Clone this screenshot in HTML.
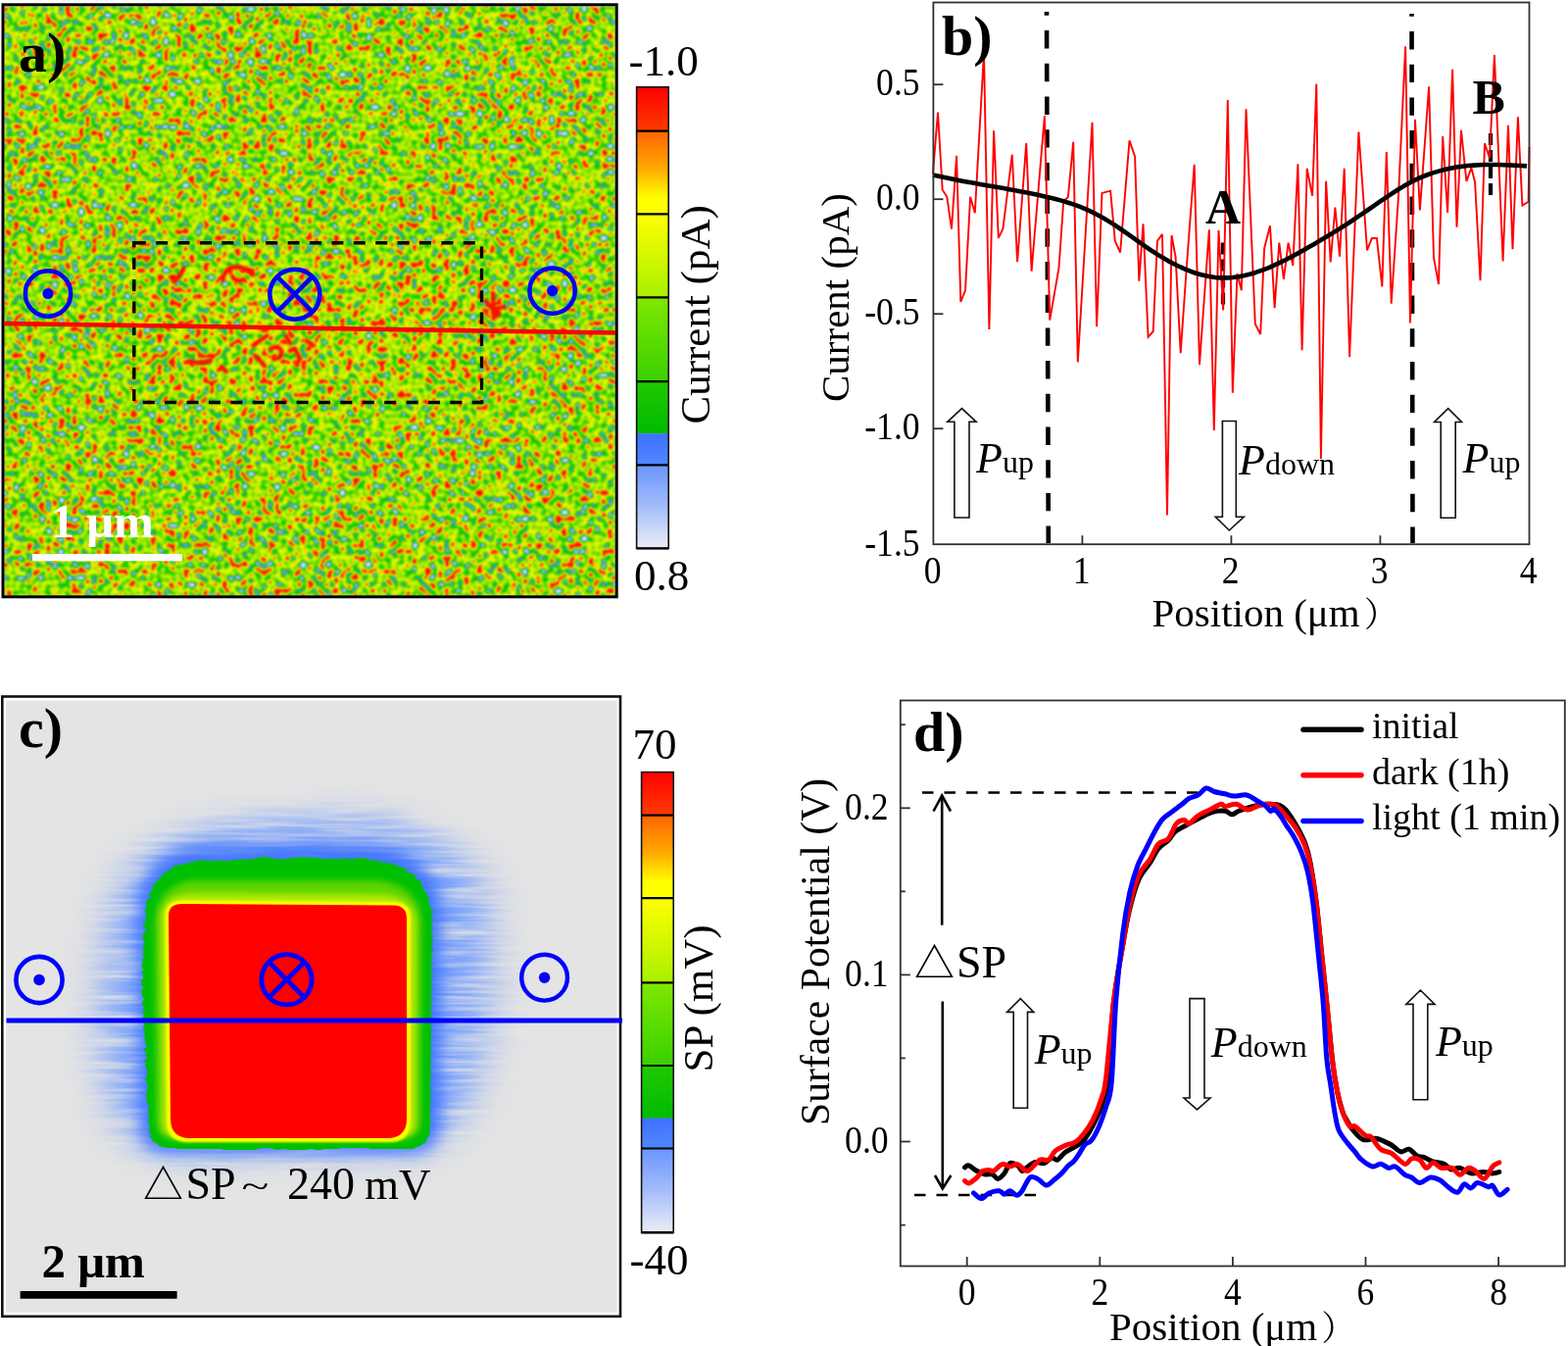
<!DOCTYPE html><html><head><meta charset="utf-8"><title>Figure</title>
<style>html,body{margin:0;padding:0;background:#fff;}svg{display:block;}text{font-family:'Liberation Serif','Times New Roman',serif;}</style></head><body>
<svg width="1600" height="1373" viewBox="0 0 1600 1373">
<defs>
<filter id="nz" x="4" y="6" width="624" height="602" filterUnits="userSpaceOnUse" color-interpolation-filters="sRGB">
<feTurbulence type="fractalNoise" baseFrequency="0.15" numOctaves="1" seed="7" result="t0"/>
<feColorMatrix in="t0" type="matrix" values="1 0 0 0 0  1 0 0 0 0  1 0 0 0 0  0 0 0 0 1" result="t1"/>
<feComposite in="t1" in2="SourceGraphic" operator="arithmetic" k1="0" k2="1" k3="0.05" k4="0" result="t2"/>
<feComponentTransfer in="t2">
<feFuncR type="table" tableValues="0.878 0.877 0.875 0.873 0.872 0.870 0.868 0.866 0.865 0.863 0.861 0.860 0.858 0.856 0.854 0.853 0.851 0.849 0.848 0.846 0.844 0.842 0.841 0.839 0.837 0.836 0.834 0.832 0.831 0.829 0.827 0.825 0.824 0.822 0.820 0.819 0.817 0.815 0.813 0.812 0.810 0.808 0.807 0.805 0.803 0.801 0.800 0.798 0.796 0.795 0.793 0.791 0.789 0.788 0.786 0.784 0.682 0.580 0.478 0.376 0.367 0.357 0.347 0.337 0.327 0.318 0.308 0.298 0.199 0.099 0.000 0.013 0.027 0.040 0.054 0.067 0.081 0.094 0.108 0.121 0.134 0.148 0.161 0.175 0.188 0.220 0.251 0.282 0.314 0.345 0.376 0.408 0.439 0.471 0.502 0.533 0.565 0.580 0.596 0.612 0.627 0.643 0.659 0.675 0.690 0.706 0.722 0.737 0.753 0.769 0.784 0.802 0.819 0.836 0.853 0.871 0.888 0.905 0.922 0.940 0.957 0.963 0.969 0.975 0.982 0.988 0.994 1.000 1.000 1.000 1.000 1.000 1.000 1.000 1.000 1.000 1.000 1.000 1.000 1.000 1.000 1.000 1.000 1.000 1.000 1.000 1.000 1.000 1.000 1.000 1.000 1.000 1.000 1.000 1.000 1.000 1.000 1.000 1.000 1.000 1.000 1.000 1.000 1.000 1.000 1.000 1.000 1.000 1.000 1.000 1.000 1.000 1.000 1.000 1.000 1.000 1.000 1.000 1.000 1.000 1.000 1.000 1.000 1.000 1.000 1.000 1.000 1.000 1.000 1.000 1.000 1.000 1.000 1.000 1.000 1.000 1.000 1.000 1.000 1.000 1.000"/>
<feFuncG type="table" tableValues="0.910 0.909 0.908 0.906 0.905 0.904 0.903 0.902 0.901 0.900 0.898 0.897 0.896 0.895 0.894 0.893 0.892 0.890 0.889 0.888 0.887 0.886 0.885 0.884 0.882 0.881 0.880 0.879 0.878 0.877 0.876 0.874 0.873 0.872 0.871 0.870 0.869 0.868 0.866 0.865 0.864 0.863 0.862 0.861 0.860 0.858 0.857 0.856 0.855 0.854 0.853 0.852 0.850 0.849 0.848 0.847 0.776 0.706 0.635 0.565 0.559 0.553 0.547 0.541 0.535 0.529 0.524 0.518 0.601 0.685 0.769 0.772 0.775 0.779 0.782 0.785 0.789 0.792 0.796 0.799 0.802 0.806 0.809 0.812 0.816 0.822 0.829 0.835 0.842 0.848 0.855 0.861 0.868 0.875 0.881 0.888 0.894 0.898 0.902 0.906 0.910 0.914 0.918 0.922 0.925 0.929 0.933 0.937 0.941 0.945 0.949 0.951 0.954 0.956 0.958 0.961 0.963 0.965 0.968 0.970 0.973 0.941 0.910 0.878 0.847 0.816 0.784 0.753 0.588 0.424 0.259 0.094 0.093 0.091 0.090 0.089 0.087 0.086 0.085 0.083 0.082 0.080 0.079 0.078 0.076 0.075 0.074 0.072 0.071 0.070 0.068 0.067 0.065 0.064 0.063 0.061 0.060 0.059 0.057 0.056 0.055 0.053 0.052 0.050 0.049 0.048 0.046 0.045 0.044 0.042 0.041 0.040 0.038 0.037 0.035 0.034 0.033 0.031 0.030 0.029 0.027 0.026 0.025 0.023 0.022 0.020 0.019 0.018 0.016 0.015 0.014 0.012 0.011 0.010 0.008 0.007 0.005 0.004 0.003 0.001 0.000"/>
<feFuncB type="table" tableValues="1.000 1.000 1.000 1.000 1.000 1.000 1.000 1.000 1.000 1.000 1.000 1.000 1.000 1.000 1.000 1.000 1.000 1.000 1.000 1.000 1.000 1.000 1.000 1.000 1.000 1.000 1.000 1.000 1.000 1.000 1.000 1.000 1.000 1.000 1.000 1.000 1.000 1.000 1.000 1.000 1.000 1.000 1.000 1.000 1.000 1.000 1.000 1.000 1.000 1.000 1.000 1.000 1.000 1.000 1.000 1.000 1.000 1.000 1.000 1.000 1.000 1.000 1.000 1.000 1.000 1.000 1.000 1.000 0.667 0.333 0.000 0.000 0.000 0.000 0.000 0.000 0.000 0.000 0.000 0.000 0.000 0.000 0.000 0.000 0.000 0.000 0.000 0.000 0.000 0.000 0.000 0.000 0.000 0.000 0.000 0.000 0.000 0.000 0.000 0.000 0.000 0.000 0.000 0.000 0.000 0.000 0.000 0.000 0.000 0.000 0.000 0.000 0.000 0.000 0.000 0.000 0.000 0.000 0.000 0.000 0.000 0.000 0.000 0.000 0.000 0.000 0.000 0.000 0.000 0.000 0.000 0.000 0.000 0.000 0.000 0.000 0.000 0.000 0.000 0.000 0.000 0.000 0.000 0.000 0.000 0.000 0.000 0.000 0.000 0.000 0.000 0.000 0.000 0.000 0.000 0.000 0.000 0.000 0.000 0.000 0.000 0.000 0.000 0.000 0.000 0.000 0.000 0.000 0.000 0.000 0.000 0.000 0.000 0.000 0.000 0.000 0.000 0.000 0.000 0.000 0.000 0.000 0.000 0.000 0.000 0.000 0.000 0.000 0.000 0.000 0.000 0.000 0.000 0.000 0.000 0.000 0.000 0.000 0.000 0.000 0.000"/>
<feFuncA type="linear" slope="0" intercept="1"/>
</feComponentTransfer>
<feGaussianBlur stdDeviation="1.0"/>
</filter>
<filter id="blur6" x="-50%" y="-50%" width="200%" height="200%"><feGaussianBlur stdDeviation="8"/></filter>
<filter id="blur2" x="-50%" y="-50%" width="200%" height="200%"><feGaussianBlur stdDeviation="3"/></filter>
<filter id="blurS" x="-50%" y="-50%" width="200%" height="200%"><feGaussianBlur stdDeviation="0.8"/></filter>
<filter id="blur1" x="-50%" y="-50%" width="200%" height="200%"><feGaussianBlur stdDeviation="1.2"/></filter>
<filter id="halo" x="0" y="0" width="1" height="1" filterUnits="objectBoundingBox" color-interpolation-filters="sRGB">
<feGaussianBlur in="SourceGraphic" stdDeviation="22 16" result="b"/>
<feTurbulence type="fractalNoise" baseFrequency="0.012 0.22" numOctaves="2" seed="3" result="n"/>
<feColorMatrix in="n" type="matrix" values="0 0 0 0 0  0 0 0 0 0  0 0 0 0 0  1.8 0 0 0 -0.15" result="na"/>
<feComposite in="b" in2="na" operator="in"/>
</filter>
<filter id="jag" x="-10%" y="-10%" width="120%" height="120%"><feTurbulence type="fractalNoise" baseFrequency="0.05 0.35" numOctaves="1" seed="9" result="n"/><feDisplacementMap in="SourceGraphic" in2="n" scale="7" xChannelSelector="R" yChannelSelector="G"/></filter>
<linearGradient id="cb1" x1="0" y1="0" x2="0" y2="1"><stop offset="0" stop-color="#ff0000"/><stop offset="1" stop-color="#ff3c00"/></linearGradient>
<linearGradient id="cb2" x1="0" y1="0" x2="0" y2="1"><stop offset="0" stop-color="#ff6400"/><stop offset="0.45" stop-color="#ffa800"/><stop offset="0.8" stop-color="#ffff00"/><stop offset="1" stop-color="#ffff00"/></linearGradient>
<linearGradient id="cb3" x1="0" y1="0" x2="0" y2="1"><stop offset="0" stop-color="#ffff00"/><stop offset="1" stop-color="#a8f000"/></linearGradient>
<linearGradient id="cb4" x1="0" y1="0" x2="0" y2="1"><stop offset="0" stop-color="#80e800"/><stop offset="1" stop-color="#38d000"/></linearGradient>
<linearGradient id="cb5" x1="0" y1="0" x2="0" y2="1"><stop offset="0" stop-color="#22c800"/><stop offset="1" stop-color="#00bb00"/></linearGradient>
<linearGradient id="cb6" x1="0" y1="0" x2="0" y2="1"><stop offset="0" stop-color="#3f70ff"/><stop offset="1" stop-color="#5088ff"/></linearGradient>
<linearGradient id="cb7" x1="0" y1="0" x2="0" y2="1"><stop offset="0" stop-color="#6a95ff"/><stop offset="0.5" stop-color="#a4bdfa"/><stop offset="1" stop-color="#eceef6"/></linearGradient>
<linearGradient id="gband" x1="0" y1="0" x2="0" y2="1"><stop offset="0" stop-color="#00bb00"/><stop offset="1" stop-color="#00bb00"/></linearGradient>
</defs>
<g filter="url(#nz)">
<rect x="4" y="6" width="624" height="602" fill="#000"/>
<g filter="url(#blur6)">
<rect x="150" y="262" width="330" height="140" fill="#909090"/>
<ellipse cx="240" cy="285" rx="25" ry="14" fill="#fff"/>
<ellipse cx="275" cy="350" rx="30" ry="14" fill="#fff"/>
<ellipse cx="200" cy="330" rx="20" ry="12" fill="#d0d0d0"/>
<ellipse cx="505" cy="318" rx="10" ry="9" fill="#fff"/>
</g>
</g>
<g fill="none" stroke="#ff1000" stroke-width="4.4" stroke-linecap="round" stroke-linejoin="round" filter="url(#blurS)">
<path d="M227.5 286 Q228 274 240 272.5 Q252 272 258.5 280"/>
<path d="M237.5 282.5 Q242 289 248.5 285"/>
<path d="M187.5 273.5 L183.5 281 L177.5 287.5"/>
<path d="M258.5 352.5 L265 347.5 L272.5 342.5"/>
<path d="M276 356 Q284 351 287.5 358.5 Q288 366 279 366"/>
<path d="M260 362.5 L267.5 370 L270 373.5"/>
<path d="M301 356 L306 366 L302.5 372.5"/>
<path d="M312.5 347.5 L320 352.5"/>
<path d="M193.5 368.5 Q205 372 215 367.5"/>
<path d="M226 374 L231 379"/>
<path d="M503 299 L503.7 325"/>
<path d="M495.5 307.5 L503 315.5 L514.5 313"/>
<path d="M292 343 L296 350"/>
<circle cx="507" cy="320" r="4" fill="#ff1000" stroke="none"/>
</g>
<rect x="3" y="4.8" width="626.2" height="604" fill="none" stroke="#000" stroke-width="3"/>
<rect x="136.8" y="247.7" width="354.7" height="162.8" fill="none" stroke="#000" stroke-width="3.4" stroke-dasharray="12 10.4"/>
<line x1="4" y1="330" x2="628" y2="339.5" stroke="#ff0000" stroke-width="4.5"/>
<circle cx="49.0" cy="299.5" r="23.2" fill="none" stroke="#0000ff" stroke-width="4.5"/>
<circle cx="49.0" cy="299.5" r="5.6" fill="#0000ff"/>
<circle cx="300.8" cy="300.2" r="25.5" fill="none" stroke="#0000ff" stroke-width="4.6"/>
<path d="M282.8 282.2L318.8 318.2M282.8 318.2L318.8 282.2" stroke="#0000ff" stroke-width="4.6"/>
<circle cx="563.6" cy="296.6" r="23.2" fill="none" stroke="#0000ff" stroke-width="4.5"/>
<circle cx="563.6" cy="296.6" r="5.6" fill="#0000ff"/>
<rect x="33" y="565" width="153" height="7.3" fill="#fff"/>
<text x="51.5" y="548" font-size="49" font-weight="bold" fill="#fff">1 μm</text>
<text x="19" y="73" font-size="58" font-weight="bold">a)</text>
<rect x="649.6" y="88.8" width="32.6" height="45.1" fill="url(#cb1)"/>
<rect x="649.6" y="133.6" width="32.6" height="85.1" fill="url(#cb2)"/>
<rect x="649.6" y="218.4" width="32.6" height="85.3" fill="url(#cb3)"/>
<rect x="649.6" y="303.4" width="32.6" height="86.1" fill="url(#cb4)"/>
<rect x="649.6" y="389.2" width="32.6" height="53.3" fill="url(#cb5)"/>
<rect x="649.6" y="442.2" width="32.6" height="32.4" fill="url(#cb6)"/>
<rect x="649.6" y="474.3" width="32.6" height="85.4" fill="url(#cb7)"/>
<rect x="649.6" y="88.8" width="32.6" height="470.6" fill="none" stroke="#111" stroke-width="1.6"/>
<line x1="649.6" y1="133.6" x2="682.2" y2="133.6" stroke="#000" stroke-width="2.2"/>
<line x1="649.6" y1="218.4" x2="682.2" y2="218.4" stroke="#000" stroke-width="2.2"/>
<line x1="649.6" y1="303.4" x2="682.2" y2="303.4" stroke="#000" stroke-width="2.2"/>
<line x1="649.6" y1="389.2" x2="682.2" y2="389.2" stroke="#000" stroke-width="2.2"/>
<line x1="649.6" y1="474.3" x2="682.2" y2="474.3" stroke="#000" stroke-width="2.2"/>
<line x1="649.6" y1="559.4" x2="682.2" y2="559.4" stroke="#000" stroke-width="2.4"/>
<text x="641.5" y="76.8" font-size="45">-1.0</text>
<text x="647" y="602.4" font-size="45">0.8</text>
<text transform="translate(723.5 432.5) rotate(-90)" font-size="43">Current (pA)</text>
<line x1="1068" y1="12" x2="1069.8" y2="554" stroke="#000" stroke-width="4.6" stroke-dasharray="18.4 15.3" stroke-dashoffset="14.6"/>
<line x1="1440.5" y1="13.9" x2="1441.5" y2="554" stroke="#000" stroke-width="4.6" stroke-dasharray="18.4 15.3" stroke-dashoffset="15.6"/>
<line x1="1248" y1="247.5" x2="1248" y2="312.5" stroke="#000" stroke-width="4.2" stroke-dasharray="12 5"/>
<line x1="1521" y1="136" x2="1521" y2="200.5" stroke="#000" stroke-width="4.2" stroke-dasharray="12 5"/>
<polyline points="951.9,177.5 957.0,114.6 961.7,193.8 966.3,200.8 971.0,233.5 976.1,158.9 980.3,308.0 985.0,296.4 990.1,200.8 994.8,217.2 1004.0,54.0 1009.4,336.0 1014.1,133.2 1018.8,242.8 1023.4,233.5 1032.8,157.7 1038.1,267.3 1047.2,146.0 1052.6,276.6 1065.9,118.1 1071.2,326.7 1080.5,273.1 1085.2,205.5 1089.9,200.8 1095.2,144.7 1099.8,369.4 1107.0,250.0 1114.5,124.7 1119.1,333.3 1124.5,196.9 1133.1,194.6 1137.8,245.9 1143.1,257.5 1152.5,143.3 1158.1,159.6 1162.3,286.7 1166.5,228.4 1171.6,343.8 1176.7,338.0 1180.9,245.9 1186.0,238.9 1191.0,525.4 1195.5,240.0 1199.6,262.2 1204.7,360.1 1211.0,270.0 1218.7,167.8 1224.0,372.2 1233.8,234.2 1238.8,439.1 1243.5,235.0 1248.2,316.4 1252.8,102.0 1257.8,400.7 1262.5,279.0 1266.8,296.2 1271.5,111.3 1280.8,330.4 1286.2,341.0 1290.1,253.5 1296.0,230.2 1300.6,314.1 1305.3,247.6 1309.9,285.0 1314.6,247.6 1319.3,271.0 1324.4,167.2 1328.6,357.2 1333.7,171.9 1339.1,199.9 1343.3,85.6 1347.9,468.0 1353.1,184.7 1357.7,267.5 1362.4,211.5 1367.0,261.6 1371.7,171.9 1377.1,364.2 1386.4,134.6 1395.0,255.3 1399.9,243.0 1404.9,243.0 1410.3,292.5 1414.8,155.1 1419.7,309.8 1427.0,200.0 1434.1,47.4 1439.0,329.6 1444.0,121.7 1448.9,214.5 1458.1,88.3 1463.0,262.8 1468.0,290.0 1472.2,139.0 1477.1,217.0 1482.1,70.9 1486.5,231.8 1491.0,132.8 1496.4,184.8 1501.4,171.2 1505.1,186.0 1510.5,286.3 1515.0,146.4 1520.0,161.3 1524.9,56.1 1533.6,266.5 1539.0,127.9 1543.5,254.1 1548.9,119.2 1553.4,209.6 1559.6,205.8 1560.5,150.0" fill="none" stroke="#ff0000" stroke-width="1.9" stroke-linejoin="miter" stroke-miterlimit="3"/>
<polyline points="952.0,178.5 958.0,179.8 964.0,181.1 970.0,182.3 976.0,183.5 982.0,184.7 988.0,185.8 994.0,186.8 1000.0,187.9 1006.0,189.0 1012.0,190.0 1018.0,191.1 1024.0,192.1 1030.0,193.2 1036.0,194.3 1042.0,195.4 1048.0,196.6 1054.0,197.8 1060.0,199.1 1066.0,200.4 1072.0,201.8 1078.0,203.3 1084.0,204.9 1090.0,206.7 1096.0,208.6 1102.0,210.8 1108.0,213.3 1114.0,216.1 1120.0,219.2 1126.0,222.5 1132.0,226.1 1138.0,229.9 1144.0,234.0 1150.0,238.2 1156.0,242.4 1162.0,246.7 1168.0,250.9 1174.0,255.0 1180.0,258.9 1186.0,262.6 1192.0,266.1 1198.0,269.3 1204.0,272.2 1210.0,274.9 1216.0,277.2 1222.0,279.2 1228.0,280.8 1234.0,282.1 1240.0,283.0 1246.0,283.4 1252.0,283.4 1258.0,283.0 1264.0,282.2 1270.0,281.0 1276.0,279.5 1282.0,277.7 1288.0,275.6 1294.0,273.3 1300.0,270.7 1306.0,267.9 1312.0,265.0 1318.0,261.8 1324.0,258.6 1330.0,255.3 1336.0,251.8 1342.0,248.4 1348.0,244.8 1354.0,241.2 1360.0,237.6 1366.0,233.9 1372.0,230.1 1378.0,226.2 1384.0,222.2 1390.0,218.2 1396.0,214.0 1402.0,209.9 1408.0,205.7 1414.0,201.6 1420.0,197.6 1426.0,193.7 1432.0,190.1 1438.0,186.7 1444.0,183.7 1450.0,180.9 1456.0,178.5 1462.0,176.4 1468.0,174.6 1474.0,173.0 1480.0,171.7 1486.0,170.6 1492.0,169.7 1498.0,169.0 1504.0,168.6 1510.0,168.2 1516.0,168.0 1522.0,168.0 1528.0,168.0 1534.0,168.2 1540.0,168.4 1546.0,168.7 1552.0,169.0 1558.0,169.4" fill="none" stroke="#000" stroke-width="4.6" stroke-linejoin="round"/>
<rect x="952.4" y="2.5" width="608.1" height="552.7" fill="none" stroke="#303030" stroke-width="1.8"/>
<line x1="952.4" y1="86.2" x2="962.4" y2="86.2" stroke="#303030" stroke-width="1.8"/>
<text transform="translate(938.6 97.0) scale(0.89 1)" font-size="40" text-anchor="end">0.5</text>
<line x1="952.4" y1="203.2" x2="962.4" y2="203.2" stroke="#303030" stroke-width="1.8"/>
<text transform="translate(938.6 214.0) scale(0.89 1)" font-size="40" text-anchor="end">0.0</text>
<line x1="952.4" y1="320.2" x2="962.4" y2="320.2" stroke="#303030" stroke-width="1.8"/>
<text transform="translate(938.6 331.0) scale(0.89 1)" font-size="40" text-anchor="end">-0.5</text>
<line x1="952.4" y1="437.2" x2="962.4" y2="437.2" stroke="#303030" stroke-width="1.8"/>
<text transform="translate(938.6 448.0) scale(0.89 1)" font-size="40" text-anchor="end">-1.0</text>
<text transform="translate(938.6 566.8) scale(0.89 1)" font-size="40" text-anchor="end">-1.5</text>
<text transform="translate(951.6 595.0) scale(0.89 1)" font-size="40" text-anchor="middle">0</text>
<line x1="1104.4" y1="555.2" x2="1104.4" y2="546.2" stroke="#303030" stroke-width="1.8"/>
<text transform="translate(1103.6 595.0) scale(0.89 1)" font-size="40" text-anchor="middle">1</text>
<line x1="1256.4" y1="555.2" x2="1256.4" y2="546.2" stroke="#303030" stroke-width="1.8"/>
<text transform="translate(1255.6 595.0) scale(0.89 1)" font-size="40" text-anchor="middle">2</text>
<line x1="1408.4" y1="555.2" x2="1408.4" y2="546.2" stroke="#303030" stroke-width="1.8"/>
<text transform="translate(1407.6 595.0) scale(0.89 1)" font-size="40" text-anchor="middle">3</text>
<text transform="translate(1559.6 595.0) scale(0.89 1)" font-size="40" text-anchor="middle">4</text>
<text transform="translate(866 410) rotate(-90)" font-size="41">Current (pA)</text>
<text x="1175.5" y="639.3" font-size="41">Position (μm<tspan font-family="'Liberation Serif','Noto Serif CJK SC','Noto Sans CJK SC',serif" font-size="35" dx="4">）</tspan></text>
<text x="961" y="56" font-size="58" font-weight="bold">b)</text>
<text x="1230" y="227.5" font-size="50" font-weight="bold">A</text>
<text x="1502.5" y="115.5" font-size="50" font-weight="bold">B</text>
<path d="M973.9 528.0L973.9 430.3L966.8 430.3L981.5 416.6L996.1 430.3L989.0 430.3L989.0 528.0Z" fill="#fff" stroke="#111" stroke-width="1.6" stroke-linejoin="miter"/>
<path d="M1247.4 429.5L1247.4 527.3L1240.3 527.3L1254.3 541.0L1269.2 527.3L1261.3 527.3L1261.3 429.5Z" fill="#fff" stroke="#111" stroke-width="1.6" stroke-linejoin="miter"/>
<path d="M1470.2 528.2L1470.2 430.5L1463.6 430.5L1477.7 416.7L1491.5 430.5L1485.2 430.5L1485.2 528.2Z" fill="#fff" stroke="#111" stroke-width="1.6" stroke-linejoin="miter"/>
<text x="996.0" y="482.2"><tspan font-size="44" font-style="italic">P</tspan><tspan font-size="32">up</tspan></text>
<text x="1264.0" y="484.0"><tspan font-size="44" font-style="italic">P</tspan><tspan font-size="32">down</tspan></text>
<text x="1492.5" y="482.3"><tspan font-size="44" font-style="italic">P</tspan><tspan font-size="32">up</tspan></text>
<rect x="6.2" y="714.6" width="623.3" height="624.2" fill="#e4e4e4"/>
<g filter="url(#halo)">
<rect x="0" y="700" width="640" height="650" fill="#000" fill-opacity="0"/>
<path d="M125 900 Q150 850 260 838 L360 833 Q460 842 490 900 Q510 960 490 1080 Q470 1170 420 1176 L170 1178 Q120 1172 110 1100 Q95 1000 125 900Z" fill="#6a98ff" fill-opacity="0.9"/>
</g>
<g filter="url(#blur6)" opacity="0.9">
<path d="M140 930 Q145 870 200 864 L380 862 Q445 870 450 930 L449 1150 Q447 1174 420 1175 L170 1175 Q145 1174 143 1150 Z" fill="#3a70ff"/>
</g>
<g filter="url(#jag)">
<path d="M147.5 940 Q150 888 192 879 L290 875 L385 877 Q436 885 441 935 L439 1150 Q437 1172 415 1172 L175 1172 Q153 1171 152 1150 L145 1000 Z" fill="#00bf00"/>
</g>
<g filter="url(#blur2)">
<path d="M158 940 Q160 905 195 898 L385 898 Q428 903 430 940 L429 1145 Q428 1162 405 1162 L180 1162 Q160 1161 160 1145 Z" fill="#5cd400"/>
<path d="M165 935 Q166 914 195 912 L390 913 Q423 916 424 940 L424 1145 Q424 1162 402 1162 L186 1162 Q166 1162 166 1145 Z" fill="#b4ec00"/>
</g>
<g filter="url(#blur1)">
<path d="M168.5 933 Q169 918 188 918.5 L402 920 Q419 921 419 936 L419 1143 Q419 1165 397 1165 L192 1165 Q170 1165 170 1143 Z" fill="#ffff00"/>
</g>
<path d="M172 934 Q172 922 186 922 L402 923.5 Q415 924 415 937 L415 1141 Q415 1161 395 1161 L194 1161 Q174 1161 174 1141 Z" fill="#ff0000"/>
<rect x="2.3" y="710.5" width="630.7" height="632.3" fill="none" stroke="#111" stroke-width="2.6"/>
<line x1="6.5" y1="1041" x2="635" y2="1041" stroke="#0000ff" stroke-width="5"/>
<circle cx="40.0" cy="999.5" r="23.6" fill="none" stroke="#0000ff" stroke-width="4.6"/>
<circle cx="40.0" cy="999.5" r="5.8" fill="#0000ff"/>
<circle cx="292.5" cy="999.3" r="25.6" fill="none" stroke="#0000ff" stroke-width="4.8"/>
<path d="M274.4 981.2L310.6 1017.4M274.4 1017.4L310.6 981.2" stroke="#0000ff" stroke-width="4.8"/>
<circle cx="555.6" cy="997.2" r="23.4" fill="none" stroke="#0000ff" stroke-width="4.4"/>
<circle cx="555.6" cy="997.2" r="5.7" fill="#0000ff"/>
<rect x="20.6" y="1317" width="160" height="7.75" fill="#000"/>
<text x="42.5" y="1302.5" font-size="49" font-weight="bold">2 μm</text>
<text x="19" y="762" font-size="58" font-weight="bold">c)</text>
<text x="146" y="1222.5" font-size="41" style="font-family:Liberation Serif,Noto Serif CJK SC,Noto Sans CJK SC,serif">△</text>
<text x="189.5" y="1222.5" font-size="46">SP</text>
<text transform="translate(246.5 1221) scale(1.12 0.72)" font-size="46">~</text>
<text x="293" y="1222.5" font-size="46">240</text>
<text x="372" y="1222.5" font-size="45">mV</text>
<rect x="654.6" y="787.6" width="32.6" height="44.4" fill="url(#cb1)"/>
<rect x="654.6" y="831.7" width="32.6" height="84.8" fill="url(#cb2)"/>
<rect x="654.6" y="916.2" width="32.6" height="86.4" fill="url(#cb3)"/>
<rect x="654.6" y="1002.3" width="32.6" height="85.0" fill="url(#cb4)"/>
<rect x="654.6" y="1087.0" width="32.6" height="53.9" fill="url(#cb5)"/>
<rect x="654.6" y="1140.6" width="32.6" height="31.2" fill="url(#cb6)"/>
<rect x="654.6" y="1171.5" width="32.6" height="86.1" fill="url(#cb7)"/>
<rect x="654.6" y="787.6" width="32.6" height="469.7" fill="none" stroke="#111" stroke-width="1.6"/>
<line x1="654.6" y1="831.7" x2="687.2" y2="831.7" stroke="#000" stroke-width="2.2"/>
<line x1="654.6" y1="916.2" x2="687.2" y2="916.2" stroke="#000" stroke-width="2.2"/>
<line x1="654.6" y1="1002.3" x2="687.2" y2="1002.3" stroke="#000" stroke-width="2.2"/>
<line x1="654.6" y1="1087.0" x2="687.2" y2="1087.0" stroke="#000" stroke-width="2.2"/>
<line x1="654.6" y1="1171.5" x2="687.2" y2="1171.5" stroke="#000" stroke-width="2.2"/>
<line x1="654.6" y1="1257.3" x2="687.2" y2="1257.3" stroke="#000" stroke-width="2.4"/>
<text x="645.5" y="774.4" font-size="45">70</text>
<text x="642.5" y="1299.6" font-size="45">-40</text>
<text transform="translate(726.5 1093.5) rotate(-90)" font-size="43">SP (mV)</text>
<rect x="918.8" y="714.5" width="678.0" height="577.0" fill="none" stroke="#303030" stroke-width="1.8"/>
<line x1="918.8" y1="1249.6" x2="923.8" y2="1249.6" stroke="#303030" stroke-width="1.8"/>
<line x1="918.8" y1="1164.5" x2="928.8" y2="1164.5" stroke="#303030" stroke-width="1.8"/>
<line x1="918.8" y1="1079.4" x2="923.8" y2="1079.4" stroke="#303030" stroke-width="1.8"/>
<line x1="918.8" y1="994.4" x2="928.8" y2="994.4" stroke="#303030" stroke-width="1.8"/>
<line x1="918.8" y1="909.3" x2="923.8" y2="909.3" stroke="#303030" stroke-width="1.8"/>
<line x1="918.8" y1="824.3" x2="928.8" y2="824.3" stroke="#303030" stroke-width="1.8"/>
<line x1="918.8" y1="739.2" x2="923.8" y2="739.2" stroke="#303030" stroke-width="1.8"/>
<text transform="translate(906.6 1175.7) scale(0.89 1)" font-size="40" text-anchor="end">0.0</text>
<text transform="translate(906.6 1005.6) scale(0.89 1)" font-size="40" text-anchor="end">0.1</text>
<text transform="translate(906.6 835.5) scale(0.89 1)" font-size="40" text-anchor="end">0.2</text>
<line x1="986.7" y1="1291.5" x2="986.7" y2="1282.0" stroke="#303030" stroke-width="1.8"/>
<text transform="translate(986.7 1330.8) scale(0.89 1)" font-size="40" text-anchor="middle">0</text>
<line x1="1122.3" y1="1291.5" x2="1122.3" y2="1282.0" stroke="#303030" stroke-width="1.8"/>
<text transform="translate(1122.3 1330.8) scale(0.89 1)" font-size="40" text-anchor="middle">2</text>
<line x1="1257.9" y1="1291.5" x2="1257.9" y2="1282.0" stroke="#303030" stroke-width="1.8"/>
<text transform="translate(1257.9 1330.8) scale(0.89 1)" font-size="40" text-anchor="middle">4</text>
<line x1="1393.5" y1="1291.5" x2="1393.5" y2="1282.0" stroke="#303030" stroke-width="1.8"/>
<text transform="translate(1393.5 1330.8) scale(0.89 1)" font-size="40" text-anchor="middle">6</text>
<line x1="1529.1" y1="1291.5" x2="1529.1" y2="1282.0" stroke="#303030" stroke-width="1.8"/>
<text transform="translate(1529.1 1330.8) scale(0.89 1)" font-size="40" text-anchor="middle">8</text>
<text transform="translate(846 1148) rotate(-90)" font-size="41.7">Surface Potential (V)</text>
<text x="1132" y="1366.5" font-size="41">Position (μm<tspan font-family="'Liberation Serif','Noto Serif CJK SC','Noto Sans CJK SC',serif" font-size="35" dx="4">）</tspan></text>
<text x="932" y="766" font-size="58" font-weight="bold">d)</text>
<line x1="941" y1="808.5" x2="1232" y2="808.5" stroke="#000" stroke-width="2.6" stroke-dasharray="11.5 11"/>
<line x1="933" y1="1219" x2="1058" y2="1219" stroke="#000" stroke-width="2.6" stroke-dasharray="11.5 11"/>
<line x1="961.2" y1="943.7" x2="961.2" y2="812" stroke="#000" stroke-width="2.6"/>
<path d="M952.5 827.5L961.2 811.5L970 827.5" fill="none" stroke="#000" stroke-width="2.6"/>
<line x1="961.8" y1="1021.5" x2="961.8" y2="1211" stroke="#000" stroke-width="2.6"/>
<path d="M954 1199L961.8 1212.5L970.4 1199" fill="none" stroke="#000" stroke-width="2.6"/>
<text x="933" y="996.5" font-size="41" style="font-family:Liberation Serif,Noto Serif CJK SC,Noto Sans CJK SC,serif">△</text>
<text x="976" y="996.5" font-size="46">SP</text>
<path d="M1034.2 1130.3L1034.2 1032.4L1027.6 1032.4L1041.3 1018.7L1054.8 1032.4L1048.5 1032.4L1048.5 1130.3Z" fill="#fff" stroke="#111" stroke-width="1.6" stroke-linejoin="miter"/>
<path d="M1214.0 1018.6L1214.0 1120.0L1208.0 1120.0L1221.5 1131.9L1235.0 1120.0L1229.0 1120.0L1229.0 1018.6Z" fill="#fff" stroke="#111" stroke-width="1.6" stroke-linejoin="miter"/>
<path d="M1442.0 1121.7L1442.0 1024.4L1434.8 1024.4L1449.4 1010.0L1464.0 1024.4L1456.8 1024.4L1456.8 1121.7Z" fill="#fff" stroke="#111" stroke-width="1.6" stroke-linejoin="miter"/>
<text x="1055.7" y="1084.5"><tspan font-size="44" font-style="italic">P</tspan><tspan font-size="32">up</tspan></text>
<text x="1235.8" y="1078.0"><tspan font-size="44" font-style="italic">P</tspan><tspan font-size="32">down</tspan></text>
<text x="1464.9" y="1077.4"><tspan font-size="44" font-style="italic">P</tspan><tspan font-size="32">up</tspan></text>
<path d="M984.5 1191.0C985.1 1190.7 986.3 1188.3 988.4 1188.9C990.5 1189.5 994.2 1193.0 996.9 1194.5C999.6 1196.0 1002.1 1197.3 1004.7 1197.9C1007.3 1198.5 1010.4 1197.2 1012.6 1197.9C1014.9 1198.7 1016.1 1202.6 1018.2 1202.4C1020.3 1202.2 1022.9 1199.3 1025.0 1196.7C1027.1 1194.1 1028.3 1187.9 1030.6 1186.6C1032.8 1185.3 1036.4 1187.6 1038.5 1188.9C1040.6 1190.2 1041.5 1194.2 1043.0 1194.5C1044.5 1194.8 1045.2 1192.5 1047.5 1191.0C1049.8 1189.5 1053.5 1186.2 1056.5 1185.5C1059.5 1184.8 1062.7 1187.3 1065.5 1186.6C1068.3 1185.8 1071.2 1181.6 1073.4 1181.0C1075.7 1180.4 1076.8 1184.1 1079.0 1183.2C1081.2 1182.3 1083.9 1177.7 1086.9 1175.4C1089.9 1173.2 1093.8 1171.8 1097.0 1169.7C1100.2 1167.6 1103.0 1166.5 1106.0 1163.0C1109.0 1159.5 1112.0 1154.2 1115.0 1148.4C1118.0 1142.6 1121.4 1136.1 1124.0 1128.0C1126.6 1119.9 1128.7 1117.5 1130.7 1100.0C1132.8 1082.5 1133.8 1045.5 1136.3 1023.0C1138.8 1000.5 1142.9 980.6 1145.6 964.8C1148.3 949.0 1149.9 939.3 1152.6 928.0C1155.3 916.7 1158.5 905.0 1162.0 897.0C1165.5 889.0 1170.3 885.2 1173.6 880.0C1176.9 874.8 1178.7 869.8 1181.8 866.0C1184.9 862.2 1189.4 860.0 1192.3 857.0C1195.2 854.0 1196.3 850.8 1199.3 848.3C1202.2 845.8 1206.5 844.0 1210.0 842.0C1213.5 840.0 1215.8 838.9 1220.2 836.6C1224.6 834.4 1231.6 830.0 1236.6 828.5C1241.6 827.0 1246.6 826.9 1250.0 827.3C1253.4 827.7 1254.7 830.8 1257.0 830.8C1259.3 830.8 1260.5 828.7 1264.0 827.3C1267.5 825.9 1273.3 823.8 1278.0 822.6C1282.7 821.4 1287.3 820.5 1292.0 820.3C1296.7 820.1 1302.5 820.3 1306.0 821.5C1309.5 822.7 1310.3 824.0 1313.0 827.3C1315.7 830.6 1319.2 835.8 1322.3 841.3C1325.4 846.8 1329.1 853.5 1331.6 860.0C1334.0 866.5 1335.1 869.9 1337.0 880.0C1338.9 890.1 1341.2 904.4 1343.2 920.5C1345.2 936.6 1347.0 957.5 1349.0 976.5C1351.0 995.5 1353.2 1016.7 1355.0 1034.8C1356.8 1052.9 1358.4 1071.7 1360.0 1085.0C1361.6 1098.3 1363.1 1106.1 1364.8 1114.4C1366.5 1122.7 1368.9 1130.7 1370.3 1135.0C1371.7 1139.3 1371.4 1137.7 1373.0 1140.5C1374.6 1143.3 1377.0 1148.3 1380.0 1152.0C1383.0 1155.7 1387.0 1161.0 1390.9 1162.5C1394.8 1164.0 1399.9 1161.0 1403.3 1161.2C1406.7 1161.4 1408.8 1162.8 1411.5 1163.9C1414.2 1165.0 1416.8 1166.2 1419.8 1168.0C1422.8 1169.8 1426.4 1174.2 1429.4 1174.9C1432.4 1175.6 1435.0 1171.5 1437.7 1172.2C1440.5 1172.9 1443.4 1177.6 1445.9 1179.0C1448.4 1180.4 1450.3 1179.5 1452.8 1180.4C1455.3 1181.3 1457.6 1183.3 1461.0 1184.5C1464.4 1185.7 1470.2 1185.9 1473.4 1187.3C1476.6 1188.7 1477.5 1192.1 1480.3 1192.8C1483.0 1193.5 1486.5 1190.7 1489.9 1191.4C1493.3 1192.1 1497.0 1196.2 1500.9 1196.9C1504.8 1197.6 1509.6 1195.5 1513.3 1195.5C1517.0 1195.5 1520.2 1196.9 1523.0 1196.9C1525.8 1196.9 1528.7 1195.7 1529.8 1195.5" fill="none" stroke="#000" stroke-width="5" stroke-linejoin="round" stroke-linecap="round"/>
<path d="M984.5 1204.6C985.2 1205.0 986.9 1207.5 989.0 1206.9C991.1 1206.3 994.6 1203.3 996.9 1201.2C999.1 1199.1 1000.5 1195.8 1002.5 1194.5C1004.5 1193.2 1007.3 1193.4 1009.2 1193.4C1011.1 1193.4 1011.5 1195.5 1013.7 1194.5C1016.0 1193.5 1019.9 1188.5 1022.7 1187.7C1025.5 1187.0 1028.0 1190.0 1030.6 1190.0C1033.2 1190.0 1035.5 1187.0 1038.5 1187.7C1041.5 1188.5 1044.8 1195.2 1048.6 1194.5C1052.3 1193.8 1057.4 1185.1 1061.0 1183.2C1064.6 1181.3 1067.4 1184.7 1070.0 1183.2C1072.6 1181.7 1073.7 1176.7 1076.7 1174.2C1079.7 1171.7 1084.6 1169.5 1088.0 1168.0C1091.4 1166.5 1094.0 1167.2 1097.0 1165.2C1100.0 1163.2 1103.0 1160.0 1106.0 1156.2C1109.0 1152.5 1112.0 1148.7 1115.0 1142.7C1118.0 1136.7 1121.8 1127.3 1124.0 1120.2C1126.2 1113.1 1126.5 1116.2 1128.5 1100.0C1130.5 1083.8 1133.5 1045.5 1136.3 1023.0C1139.1 1000.5 1142.9 981.1 1145.6 964.8C1148.3 948.5 1149.9 937.2 1152.6 925.2C1155.3 913.2 1158.5 900.8 1162.0 892.6C1165.5 884.4 1170.3 881.5 1173.6 876.2C1176.9 871.0 1178.7 864.6 1181.8 861.1C1184.9 857.6 1189.2 858.8 1192.3 855.3C1195.4 851.8 1197.7 843.2 1200.4 840.1C1203.1 837.0 1206.5 836.6 1208.6 836.6C1210.7 836.6 1210.9 840.9 1213.2 840.1C1215.5 839.3 1219.1 834.3 1222.6 832.0C1226.1 829.7 1230.3 828.1 1234.2 826.1C1238.1 824.1 1243.3 820.9 1245.9 820.3C1248.5 819.7 1247.4 822.6 1250.0 822.6C1252.6 822.6 1257.8 819.7 1261.7 820.3C1265.6 820.9 1269.4 825.9 1273.3 826.1C1277.2 826.3 1281.1 822.5 1285.0 821.5C1288.9 820.5 1293.5 820.1 1296.6 820.3C1299.7 820.5 1300.9 820.5 1303.6 822.6C1306.3 824.7 1309.9 829.4 1313.0 833.1C1316.1 836.8 1319.4 840.3 1322.3 844.8C1325.2 849.3 1328.1 854.4 1330.4 860.0C1332.7 865.6 1334.1 868.5 1336.2 878.6C1338.3 888.7 1341.1 904.2 1343.2 920.5C1345.3 936.8 1347.0 957.5 1349.0 976.5C1351.0 995.5 1353.3 1017.5 1355.0 1034.8C1356.7 1052.0 1357.7 1066.7 1359.3 1080.0C1360.9 1093.3 1363.0 1105.2 1364.8 1114.4C1366.6 1123.6 1368.2 1129.3 1370.3 1135.0C1372.3 1140.7 1375.0 1146.5 1377.1 1148.8C1379.1 1151.1 1379.8 1147.2 1382.6 1148.8C1385.3 1150.4 1390.8 1156.6 1393.6 1158.4C1396.3 1160.2 1396.6 1157.5 1399.1 1159.8C1401.6 1162.1 1405.3 1169.5 1408.8 1172.2C1412.2 1175.0 1415.7 1173.8 1419.8 1176.3C1423.9 1178.8 1430.1 1186.4 1433.5 1187.3C1436.9 1188.2 1437.9 1182.5 1440.4 1181.8C1442.9 1181.1 1446.2 1181.6 1448.7 1183.2C1451.2 1184.8 1453.2 1191.0 1455.5 1191.4C1457.8 1191.9 1459.9 1185.9 1462.4 1185.9C1464.9 1185.9 1467.5 1190.5 1470.7 1191.4C1473.9 1192.3 1478.5 1190.2 1481.7 1191.4C1484.9 1192.6 1487.2 1198.3 1489.9 1198.3C1492.7 1198.3 1495.7 1192.1 1498.2 1191.4C1500.7 1190.7 1502.3 1192.4 1505.1 1194.2C1507.8 1196.0 1511.7 1203.1 1514.7 1202.4C1517.7 1201.7 1520.5 1192.8 1523.0 1190.0C1525.5 1187.2 1528.7 1186.6 1529.8 1185.9" fill="none" stroke="#ff0000" stroke-width="5" stroke-linejoin="round" stroke-linecap="round"/>
<path d="M993.5 1217.0C994.8 1217.9 998.8 1222.6 1001.4 1222.6C1004.0 1222.6 1006.2 1218.3 1009.2 1217.0C1012.2 1215.7 1016.8 1214.5 1019.4 1214.7C1022.0 1214.9 1023.1 1218.1 1025.0 1218.1C1026.9 1218.1 1028.5 1214.5 1030.6 1214.7C1032.7 1214.9 1035.3 1219.2 1037.4 1219.2C1039.5 1219.2 1040.8 1217.7 1043.0 1214.7C1045.2 1211.7 1048.3 1203.2 1050.9 1201.2C1053.5 1199.2 1055.9 1201.1 1058.7 1202.4C1061.5 1203.7 1064.9 1208.9 1067.7 1209.1C1070.5 1209.3 1073.0 1205.6 1075.6 1203.5C1078.2 1201.4 1081.1 1199.1 1083.5 1196.7C1085.9 1194.3 1088.1 1191.0 1090.2 1188.9C1092.3 1186.9 1094.0 1186.5 1095.9 1184.4C1097.8 1182.3 1099.6 1179.3 1101.5 1176.5C1103.4 1173.7 1105.0 1169.8 1107.1 1167.5C1109.2 1165.2 1111.5 1166.2 1113.9 1163.0C1116.3 1159.8 1119.3 1154.0 1121.7 1148.4C1124.1 1142.8 1126.4 1136.3 1128.5 1129.2C1130.6 1122.1 1132.4 1123.3 1134.1 1105.6C1135.8 1087.9 1136.7 1048.4 1138.6 1023.0C1140.5 997.6 1143.3 971.8 1145.6 953.2C1147.9 934.6 1150.1 922.9 1152.6 911.2C1155.1 899.5 1157.9 891.0 1160.8 883.2C1163.7 875.4 1167.1 870.4 1170.0 864.6C1172.9 858.8 1175.6 853.1 1178.3 848.3C1181.0 843.4 1183.3 839.0 1186.4 835.5C1189.5 832.0 1193.7 829.8 1197.0 827.3C1200.3 824.8 1203.5 822.4 1206.2 820.3C1208.9 818.2 1210.5 816.0 1213.2 814.5C1215.9 813.0 1219.7 812.8 1222.6 811.0C1225.5 809.2 1228.0 804.6 1230.7 804.0C1233.4 803.4 1235.7 806.5 1238.9 807.5C1242.1 808.5 1246.6 809.0 1250.0 809.8C1253.4 810.6 1255.6 811.9 1259.3 812.1C1263.0 812.3 1268.2 810.2 1272.1 811.0C1276.0 811.8 1279.5 815.0 1282.6 816.8C1285.7 818.5 1288.5 819.8 1290.8 821.5C1293.1 823.2 1295.0 826.7 1296.6 827.3C1298.1 827.9 1298.3 824.0 1300.1 825.0C1301.8 826.0 1305.0 830.2 1307.1 833.1C1309.2 836.0 1310.8 839.1 1312.9 842.4C1315.1 845.7 1317.5 848.5 1320.0 853.0C1322.5 857.5 1325.7 863.5 1328.0 869.3C1330.3 875.1 1332.0 879.5 1334.0 888.0C1336.0 896.5 1337.8 905.8 1339.7 920.5C1341.6 935.2 1343.8 959.4 1345.6 976.5C1347.3 993.6 1348.8 1005.8 1350.2 1023.0C1351.6 1040.2 1352.5 1065.9 1353.8 1080.0C1355.1 1094.1 1356.5 1098.3 1357.9 1107.5C1359.3 1116.7 1360.6 1127.4 1362.0 1135.0C1363.4 1142.6 1364.0 1147.9 1366.1 1152.9C1368.2 1158.0 1371.7 1161.6 1374.4 1165.3C1377.2 1169.0 1380.1 1171.9 1382.6 1174.9C1385.1 1177.9 1386.5 1180.7 1389.5 1183.2C1392.5 1185.7 1397.3 1189.3 1400.5 1190.0C1403.7 1190.7 1406.0 1187.1 1408.8 1187.3C1411.5 1187.5 1414.5 1191.0 1417.0 1191.4C1419.5 1191.9 1421.2 1188.8 1423.9 1190.0C1426.7 1191.2 1430.8 1196.5 1433.5 1198.3C1436.2 1200.1 1437.9 1199.6 1440.4 1201.0C1442.9 1202.4 1445.5 1206.5 1448.7 1206.5C1451.9 1206.5 1456.3 1201.5 1459.7 1201.0C1463.1 1200.5 1466.3 1202.2 1469.3 1203.8C1472.3 1205.4 1474.6 1208.6 1477.6 1210.7C1480.6 1212.8 1484.5 1216.7 1487.2 1216.2C1490.0 1215.7 1491.8 1208.6 1494.1 1207.9C1496.4 1207.2 1498.7 1212.2 1501.0 1212.0C1503.3 1211.8 1504.8 1206.7 1507.8 1206.5C1510.8 1206.3 1516.3 1210.2 1518.8 1210.7C1521.3 1211.2 1521.2 1207.9 1523.0 1209.3C1524.8 1210.7 1527.3 1218.2 1529.8 1218.9C1532.3 1219.6 1536.7 1214.3 1538.1 1213.4" fill="none" stroke="#0000ff" stroke-width="5" stroke-linejoin="round" stroke-linecap="round"/>
<line x1="1330" y1="744.3" x2="1389" y2="744.3" stroke="#000" stroke-width="5.5" stroke-linecap="round"/>
<text x="1400" y="752.5" font-size="38">initial</text>
<line x1="1330" y1="790.8" x2="1389" y2="790.8" stroke="#ff0000" stroke-width="5.5" stroke-linecap="round"/>
<text x="1400" y="799.5" font-size="38">dark (1h)</text>
<line x1="1330" y1="837.5" x2="1389" y2="837.5" stroke="#0000ff" stroke-width="5.5" stroke-linecap="round"/>
<text x="1400" y="846.3" font-size="38">light (1 min)</text>
</svg></body></html>
